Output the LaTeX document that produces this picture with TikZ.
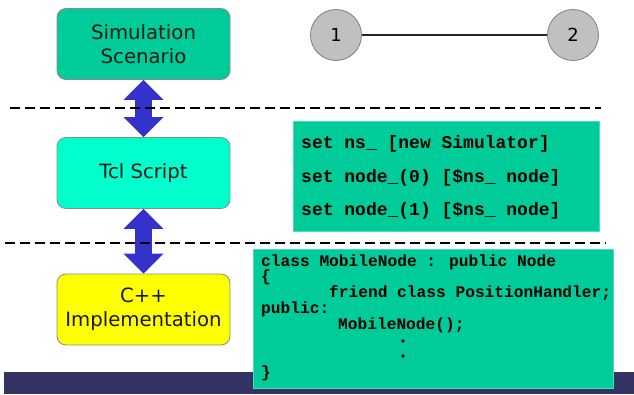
\documentclass[tikz,border=0pt]{standalone}
\usepackage{fontspec}
\setmainfont{DejaVu Sans}
\newfontfamily\codefont{Liberation Mono}
\usetikzlibrary{arrows.meta}

\definecolor{scengreen}{HTML}{00CC99}
\definecolor{tclaqua}{HTML}{00FFCC}
\definecolor{cppyellow}{HTML}{FFFF00}
\definecolor{arrowblue}{HTML}{3333CC}
\definecolor{barnavy}{HTML}{333366}
\definecolor{nodegray}{HTML}{C0C0C0}

\tikzset{
  layerbox/.style={draw=black!45, line width=0.8pt, rounded corners=9pt,
    minimum width=173pt, minimum height=71pt, inner sep=0pt,
    align=center, font=\fontsize{19.7}{24}\selectfont, text=black!90},
  codebox/.style={fill=scengreen, draw=scengreen!70!white, line width=0.6pt,
    inner sep=0pt, anchor=north west},
  tclline/.style={anchor=base west, inner sep=0pt,
    font=\codefont\bfseries\fontsize{18}{20}\selectfont},
  cppline/.style={anchor=base west, inner sep=0pt,
    font=\codefont\bfseries\fontsize{16.2}{18}\selectfont},
  codedot/.style={circle, fill=black, inner sep=0pt, minimum size=3.6pt},
  bothways/.style={arrowblue, line width=17pt,
    {Triangle[width=39pt,length=20pt]}-{Triangle[width=39pt,length=20pt]}},
  layersep/.style={black, line width=1.8pt, dash pattern=on 10pt off 5pt},
  netnode/.style={circle, fill=nodegray, draw=black!50, line width=0.8pt,
    minimum size=51pt, inner sep=0pt, font=\fontsize{18}{20}\selectfont},
}

\begin{document}
\begin{tikzpicture}[x=1pt, y=-1pt]
  \useasboundingbox (0,0) rectangle (634,394);

  % footer bar
  \fill[barnavy] (4,372) rectangle (634,394);

  % layer boxes
  \node[layerbox, fill=scengreen] (scen) at (143.5,44) {Simulation\\Scenario};
  \node[layerbox, fill=tclaqua] (tcl) at (143.5,173) {Tcl Script};
  \node[layerbox, fill=cppyellow] (cpp) at (143.5,309.5) {C++\\Implementation};

  % links between layers
  \draw[bothways] (scen.south) -- (tcl.north);
  \draw[bothways] (tcl.south) -- (cpp.north);

  % layer separators
  \coordinate (sepAl) at (10,108);
  \coordinate (sepAr) at (601,108);
  \coordinate (sepBl) at (5,243);
  \coordinate (sepBr) at (606,243);
  \draw[layersep] (sepAl) -- (sepAr);
  \draw[layersep] (sepBl) -- (sepBr);

  % two-node network
  \node[netnode] (n1) at (336,35) {1};
  \node[netnode] (n2) at (573,35) {2};
  \draw[black!85, line width=1.2pt] (n1) -- (n2);

  % Tcl code
  \node[codebox, minimum width=306pt, minimum height=110pt] (tclcode) at (293,121) {};
  \node[tclline] (t1) at (301,148) {set ns\_ [new Simulator]};
  \node[tclline] (t2) at (301,182) {set node\_(0) [\$ns\_ node]};
  \node[tclline] (t3) at (301,215) {set node\_(1) [\$ns\_ node]};

  % C++ code
  \node[codebox, minimum width=360pt, minimum height=139pt] (cppcode) at (253,249) {};
  \node[cppline] (c1) at (261,266) {class MobileNode : public Node};
  \node[cppline] (c2) at (261,281) {\{};
  \node[cppline] (c3) at (329,297) {friend class PositionHandler;};
  \node[cppline] (c4) at (261,313) {public:};
  \node[cppline] (c5) at (338,329) {MobileNode();};
  \node[codedot] (d1) at (403,341) {};
  \node[codedot] (d2) at (403,356) {};
  \node[cppline] (c6) at (261,377) {\}};
\end{tikzpicture}
\end{document}
